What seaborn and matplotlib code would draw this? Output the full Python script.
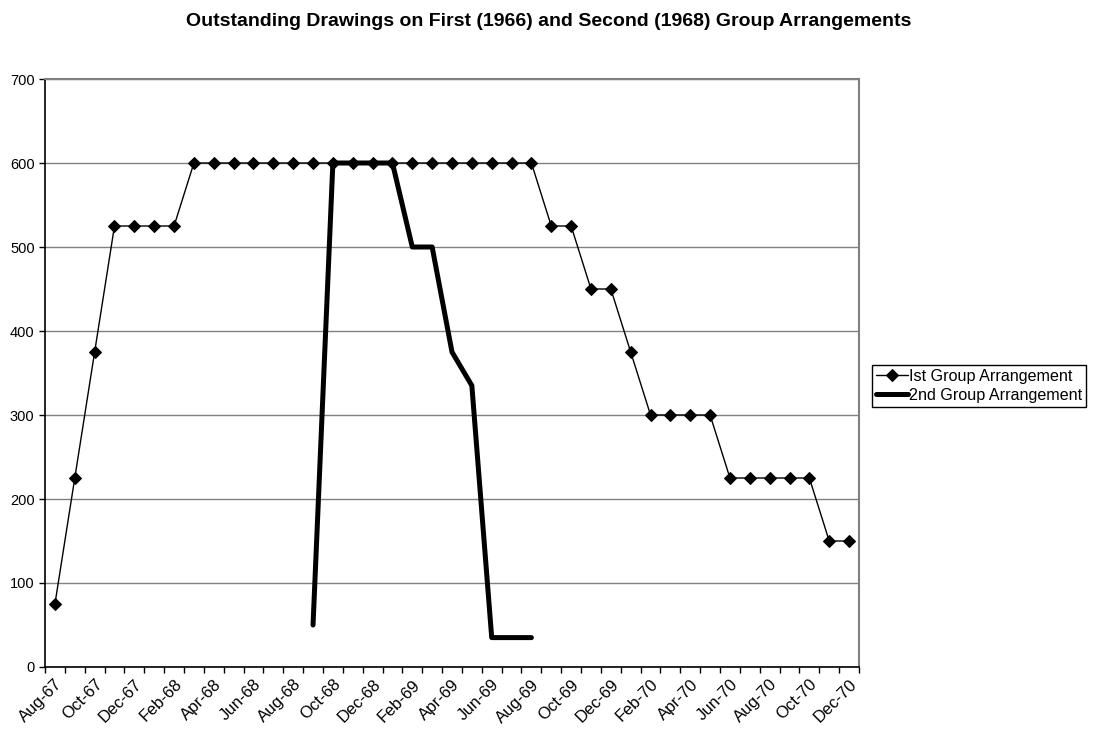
import matplotlib
matplotlib.use("Agg")
import matplotlib.pyplot as plt
import numpy as np
import pandas as pd
import seaborn as sns

# monthly categories Aug-67 .. Dec-70
MONTHS = ["Aug-67", "Sep-67", "Oct-67", "Nov-67", "Dec-67",
          "Jan-68", "Feb-68", "Mar-68", "Apr-68", "May-68", "Jun-68", "Jul-68",
          "Aug-68", "Sep-68", "Oct-68", "Nov-68", "Dec-68",
          "Jan-69", "Feb-69", "Mar-69", "Apr-69", "May-69", "Jun-69", "Jul-69",
          "Aug-69", "Sep-69", "Oct-69", "Nov-69", "Dec-69",
          "Jan-70", "Feb-70", "Mar-70", "Apr-70", "May-70", "Jun-70", "Jul-70",
          "Aug-70", "Sep-70", "Oct-70", "Nov-70", "Dec-70"]

FIRST_GROUP = [75, 225, 375, 525, 525, 525, 525, 600, 600, 600, 600, 600,
               600, 600, 600, 600, 600, 600, 600, 600, 600, 600, 600, 600,
               600, 525, 525, 450, 450, 375, 300, 300, 300, 300, 225, 225,
               225, 225, 225, 150, 150]

# second arrangement runs Sep-68 .. Aug-69
SECOND_START = 13
SECOND_GROUP = [50, 600, 600, 600, 600, 500, 500, 375, 335, 35, 35, 35]

SERIES_1 = "Ist Group Arrangement"
SERIES_2 = "2nd Group Arrangement"
TITLE = "Outstanding Drawings on First (1966) and Second (1968) Group Arrangements"

sns.set_theme(style="white")
plt.rcParams["font.family"] = ["Liberation Sans", "DejaVu Sans"]
plt.rcParams["text.color"] = "black"
plt.rcParams["xtick.color"] = "black"
plt.rcParams["ytick.color"] = "black"

df1 = pd.DataFrame({"idx": np.arange(len(MONTHS)), "value": FIRST_GROUP})
df2 = pd.DataFrame({"idx": np.arange(SECOND_START, SECOND_START + len(SECOND_GROUP)),
                    "value": SECOND_GROUP})

fig = plt.figure(figsize=(10.97, 7.34), dpi=100)
ax = fig.add_axes([45 / 1097, 1 - 667 / 734, (859 - 45) / 1097, (667 - 79) / 734])

sns.lineplot(data=df1, x="idx", y="value", ax=ax, color="black", linewidth=1.0,
             marker="D", markersize=6.5, markeredgecolor="black", label=SERIES_1)
sns.lineplot(data=df2, x="idx", y="value", ax=ax, color="black", linewidth=3.6,
             label=SERIES_2)

ax.set_xlim(-0.5, len(MONTHS) - 0.5)
ax.set_ylim(0, 700)
ax.set_yticks(np.arange(0, 701, 100))
ax.yaxis.grid(True, color="#808080", linewidth=1)
ax.set_axisbelow(True)

ax.set_xticks(np.arange(0, len(MONTHS), 2))
ax.set_xticklabels(MONTHS[::2], rotation=45, ha="right", rotation_mode="anchor")
ax.set_xticks(np.arange(-0.5, len(MONTHS), 1), minor=True)
ax.tick_params(axis="x", which="major", length=0, pad=7, labelsize=12)
ax.tick_params(axis="x", which="minor", length=4, width=1, color="black", bottom=True)
ax.tick_params(axis="y", length=4, width=1, color="black", left=True, labelsize=10.5)

ax.set_xlabel("")
ax.set_ylabel("")
for side in ("left", "bottom"):
    ax.spines[side].set_color("black")
    ax.spines[side].set_linewidth(1.2)
for side in ("top", "right"):
    ax.spines[side].set_color("#808080")
    ax.spines[side].set_linewidth(1.5)

ax.legend(loc="center left", bbox_to_anchor=(872 / 1097, 1 - 386 / 734),
          bbox_transform=fig.transFigure, frameon=True, fancybox=False,
          edgecolor="black", framealpha=1, fontsize=11.6, handlelength=2.0,
          handletextpad=0.05, borderpad=0.25, labelspacing=0.25, borderaxespad=0)

fig.suptitle(TITLE, x=0.5, y=1 - 22 / 734, fontsize=14, fontweight="bold", va="center")

fig.savefig("out.png", dpi=100)
